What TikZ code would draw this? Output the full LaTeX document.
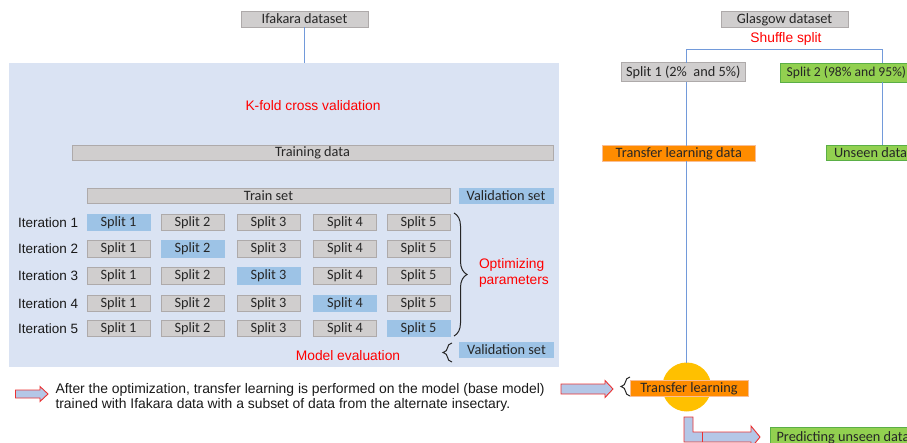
\documentclass[tikz,border=0pt]{standalone}
\usepackage{fontspec}
\setmainfont{Liberation Sans}
\newfontfamily\boxfont{Carlito}
\usetikzlibrary{decorations.pathreplacing,calc}
\definecolor{bgblue}{RGB}{218,227,243}
\definecolor{boxgray}{RGB}{208,206,206}
\definecolor{boxgrayd}{RGB}{174,170,170}
\definecolor{splitblue}{RGB}{157,195,230}
\definecolor{lineblue}{RGB}{114,154,218}
\definecolor{orng}{RGB}{255,140,0}
\definecolor{orngb}{RGB}{248,190,150}
\definecolor{grn}{RGB}{146,208,80}
\definecolor{grnd}{RGB}{90,175,70}
\definecolor{ylw}{RGB}{255,192,0}
\definecolor{arrfill}{RGB}{180,199,231}
\definecolor{arrred}{RGB}{235,50,50}
\definecolor{txtred}{RGB}{255,0,0}
\begin{document}
\begin{tikzpicture}[x=1pt,y=-1pt,
 every node/.style={inner sep=0pt, outer sep=0pt},
 box/.style={font=\boxfont\fontsize{14.3}{15}\selectfont, text=black!85, line width=0.8pt},
 graybox/.style={box, fill=boxgray, draw=boxgrayd},
 bluebox/.style={box, fill=splitblue, draw=splitblue},
 greenbox/.style={box, fill=grn, draw=grnd},
 orangebox/.style={box, fill=orng, draw=orngb},
 redtxt/.style={font=\fontsize{13.8}{15.7}\selectfont, text=txtred},
 plaintxt/.style={font=\fontsize{13.5}{15}\selectfont, text=black!90},
 conn/.style={draw=lineblue, line width=1.5pt},
 fatarrow/.style={fill=arrfill, draw=arrred, line width=0.9pt, line join=miter},
 bracedeco/.style={decorate, decoration={brace, amplitude=#1}, draw=black!85, line width=1pt},
]
\useasboundingbox (0,0) rectangle (907,443);
\clip (0,0) rectangle (907,443);

% left panel
\node[fill=bgblue, minimum width=550.5pt, minimum height=304pt] (bg) at (283.75,215) {};
\node[graybox, minimum width=127pt, minimum height=16pt] (ifk) at (304.5,19) {Ifakara dataset};
\draw[conn] (ifk.south) -- (ifk.south |- bg.north);
\node[redtxt] (kfold) at (313,106) {K-fold cross validation};
\node[graybox, minimum width=481pt, minimum height=14.5pt] (train) at (312.5,153) {Training data};
\node[graybox, minimum width=363pt, minimum height=15pt] (trset) at (268.5,195.5) {Train set};
\node[bluebox, minimum width=94pt, minimum height=15pt] (val1) at (506,195.5) {Validation set};

\foreach \r/\y in {1/222.5,2/249,3/276,4/303.5,5/328.3} {
  \node[plaintxt, anchor=west] (it\r) at (18,\y) {Iteration \r};
  \foreach \c/\x in {1/118.5,2/192.5,3/268.5,4/345,5/418.5} {
    \ifnum\c=\r \def\fc{splitblue}\def\dc{splitblue}\else\def\fc{boxgray}\def\dc{boxgrayd}\fi
    \node[box, fill=\fc, draw=\dc, minimum width=63pt, minimum height=16.5pt] (s\r\c) at (\x,\y) {Split \c};
  }
}
\draw[bracedeco=13pt] (454,213) -- (454,336);
\node[redtxt, anchor=west, align=left] (opt) at (479,273) {Optimizing\\parameters};
\node[redtxt] (meval) at (348,355.5) {Model evaluation};
\node[bluebox, minimum width=94pt, minimum height=15.5pt] (val2) at (506.5,350) {Validation set};
\draw[bracedeco=9pt] (452,362) -- (452,343);

% note
\draw[fatarrow] (15.5,390) -- (40,390) -- (40,386.5) -- (48,394) -- (40,401.5) -- (40,398) -- (15.5,398) -- cycle;
\node[plaintxt, font=\fontsize{13.9}{15}\selectfont, anchor=west, align=left] (note) at (55.5,397.5) {After the optimization, transfer learning is performed on the model (base model)\\trained with Ifakara data with a subset of data from the alternate insectary.};
\draw[fatarrow] (561,384) -- (605,384) -- (605,380.5) -- (613,389) -- (605,397.5) -- (605,394) -- (561,394) -- cycle;

% right side
\node[graybox, minimum width=127pt, minimum height=16.7pt] (gla) at (784.5,19.3) {Glasgow dataset};
\node[redtxt] (shuf) at (786,39.3) {Shuffle split};
\node[graybox, minimum width=124.3pt, minimum height=19pt] (sp1) at (683.2,72.2) {Split 1 (2\%\ \ and 5\%)};
\node[greenbox, font=\boxfont\fontsize{13.6}{15}\selectfont, minimum width=132.8pt, minimum height=19pt] (sp2) at (846.4,72.5) {Split 2 (98\% and 95\%)};
\node[orangebox, minimum width=152.3pt, minimum height=15.3pt] (tld) at (678.8,153.3) {Transfer learning data};
\node[greenbox, minimum width=89pt, minimum height=15pt] (uns) at (870.5,152.5) {Unseen data};

\coordinate (lx) at (686.7,0);
\coordinate (rx) at (882.7,0);
\coordinate (hy) at (0,49.3);
\draw[conn] (lx |- sp1.north) -- (lx |- hy) -- (rx |- hy) -- (rx |- sp2.north);
\draw[conn] (lx |- sp1.south) -- (lx |- tld.north);
\draw[conn] (rx |- sp2.south) -- (rx |- uns.north);

\node[circle, fill=ylw, minimum size=49pt] (circ) at (686.7,387) {};
\draw[conn] (lx |- tld.south) -- (circ.north);
\node[orangebox, minimum width=118pt, minimum height=16.5pt] (tl) at (689,388.3) {Transfer learning};
\draw[bracedeco=9pt] (630,396) -- (630,377);

\node[greenbox, minimum width=145pt, text height=14.3pt, text depth=8pt, anchor=base] (pred) at (843,441.3) {Predicting unseen data};
\draw[fatarrow] (684,417) -- (693,417) -- (693,432) -- (751,432) -- (751,426) -- (760,437) -- (751,448) -- (751,442) -- (684,442) -- cycle;
\draw[draw=arrred, line width=0.9pt] (702,432) -- (702,442);
\end{tikzpicture}
\end{document}
